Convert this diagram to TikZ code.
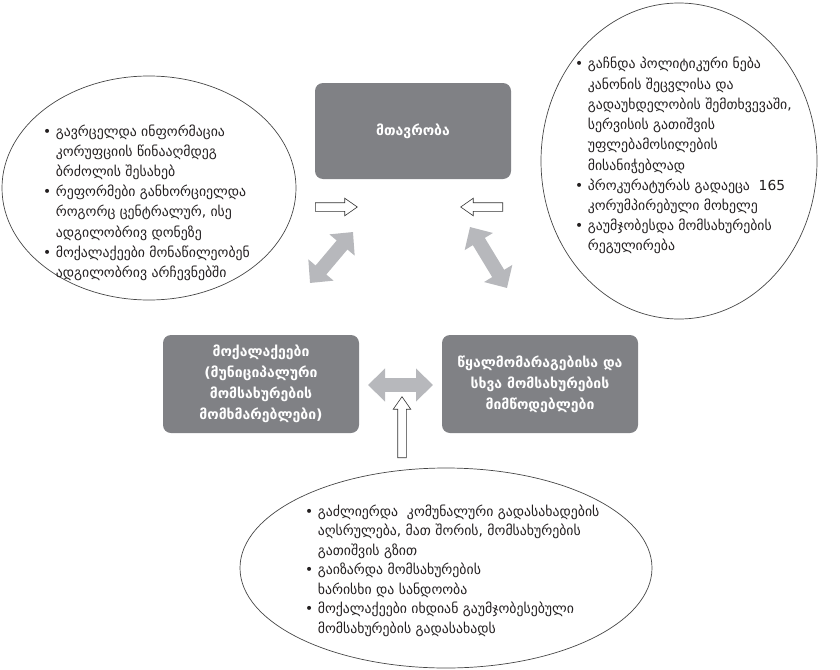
\documentclass[tikz,border=0pt]{standalone}
\usepackage{fontspec}
\newfontfamily\geo{DejaVu Sans}
\usepackage{tikz}
\usetikzlibrary{arrows.meta}
\usetikzlibrary{shapes.geometric, shapes.arrows}
\definecolor{boxgray}{RGB}{128,129,133}
\definecolor{arrowgray}{RGB}{183,184,188}
\definecolor{inkgray}{RGB}{35,31,32}
\definecolor{rimgray}{RGB}{70,70,70}

\tikzset{
 actor/.style = {rounded corners=8pt, fill=boxgray, text=white, align=center, minimum width=196pt,
   font=\geo\bfseries\fontsize{14}{21}\selectfont},
 oval/.style = {ellipse, draw=rimgray, line width=0.7pt, inner sep=0pt},
 notes/.style = {anchor=base west, inner sep=0pt, text=inkgray, font=\geo\fontsize{13.8}{20.2}\selectfont},
 hollow/.style = {single arrow, draw=black!80, fill=white, line width=0.6pt, minimum height=42pt,
   inner xsep=0pt, inner ysep=4pt, single arrow head extend=4.5pt, single arrow tip angle=70},
 swap/.style = {line width=14pt, draw=arrowgray, {Triangle[width=32pt,length=17pt]}-{Triangle[width=32pt,length=17pt]}}
}

\begin{document}
\begin{tikzpicture}[x=1pt, y=-1pt]
\useasboundingbox (0,0) rectangle (840,669);

\node[oval, minimum width=294pt, minimum height=224pt] (reach) at (149,188) {};
\node[oval, minimum width=276pt, minimum height=316pt] (will) at (679,161) {};
\node[oval, minimum width=412pt, minimum height=200pt] (pay) at (446,568) {};

\node[actor, minimum height=96pt] (gov) at (413,131) {მთავრობა};
\node[actor, minimum height=98pt] (citizens) at (261,384) {მოქალაქეები\\(მუნიციპალური\\მომსახურების\\მომხმარებლები)};
\node[actor, minimum height=98pt] (providers) at (540,384) {წყალმომარაგებისა და\\სხვა  მომსახურების\\მიმწოდებლები};

\node[notes] (reachtxt) at (43,136) {\begin{tabular}[t]{@{}l@{\hspace{4.5pt}}l@{}}
• & გავრცელდა ინფორმაცია\\
  & კორუფციის წინააღმდეგ\\
  & ბრძოლის შესახებ\\
• & რეფორმები განხორციელდა\\
  & როგორც ცენტრალურ, ისე\\
  & ადგილობრივ დონეზე\\
• & მოქალაქეები მონაწილეობენ\\
  & ადგილობრივ არჩევნებში
\end{tabular}};

\node[notes] (willtxt) at (575,69) {\begin{tabular}[t]{@{}l@{\hspace{4.5pt}}l@{}}
• & გაჩნდა პოლიტიკური ნება\\
  & კანონის შეცვლისა და\\
  & გადაუხდელობის შემთხვევაში,\\
  & სერვისის გათიშვის\\
  & უფლებამოსილების\\
  & მისანიჭებლად\\
• & პროკურატურას გადაეცა \ 165\\
  & კორუმპირებული მოხელე\\
• & გაუმჯობესდა მომსახურების\\
  & რეგულირება
\end{tabular}};

\node[notes, font=\geo\fontsize{13.8}{19.5}\selectfont] (paytxt) at (305,516) {\begin{tabular}[t]{@{}l@{\hspace{4.5pt}}l@{}}
• & გაძლიერდა \ კომუნალური გადასახადების\\
  & აღსრულება, მათ შორის, მომსახურების\\
  & გათიშვის გზით\\
• & გაიზარდა მომსახურების\\
  & ხარისხი და სანდოობა\\
• & მოქალაქეები იხდიან გაუმჯობესებული\\
  & მომსახურების გადასახადს
\end{tabular}};

\node[hollow, anchor=tail] (togov) at (315,207) {};
\node[hollow, rotate=180, anchor=tail] (fromwill) at (503,207) {};
\node[hollow, rotate=90, anchor=tail, minimum height=61pt] (frompay) at (402,458) {};

\coordinate (sl1) at (310,283);
\coordinate (sl2) at (353,232);
\coordinate (sr1) at (470,227);
\coordinate (sr2) at (507,288);
\coordinate (sm1) at (368,385);
\coordinate (sm2) at (433,385);
\foreach \a/\b in {sl1/sl2, sr1/sr2, sm1/sm2}
\draw[swap] (\a) -- (\b);

\end{tikzpicture}
\end{document}
